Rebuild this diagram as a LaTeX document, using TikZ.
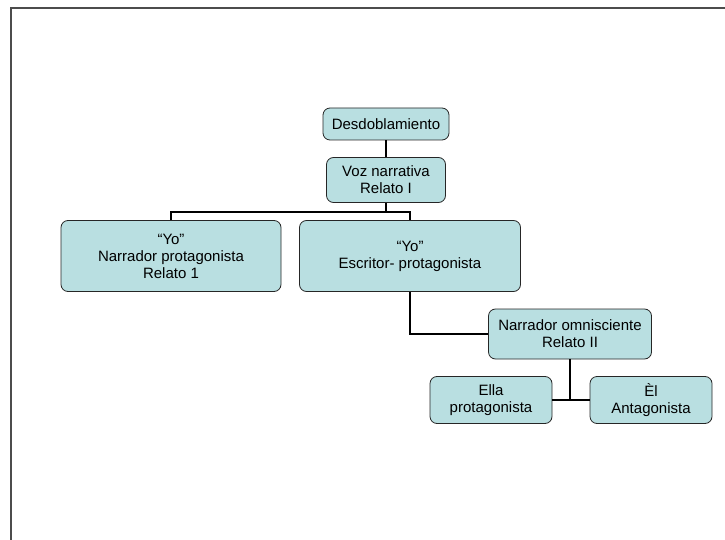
\documentclass[tikz,border=0pt]{standalone}
\usepackage{fontspec}
\setmainfont{Liberation Sans}
\usepackage{xcolor}
\definecolor{cajaazul}{RGB}{185,223,225}

\begin{document}
\begin{tikzpicture}[x=1pt,y=-1pt]
\tikzset{caja/.style={draw=black!85,line width=0.8pt,fill=cajaazul,rounded corners=7pt,align=center,font=\fontsize{15}{17}\selectfont,inner sep=0pt}}
\tikzset{rama/.style={line width=1.6pt}}

\useasboundingbox (0,0) rectangle (725,540);
\draw[black!70,line width=1.2pt] (11,540) -- (11,8) -- (725,8);

\node[caja,minimum width=126pt,minimum height=32pt] (desd) at (386,124) {Desdoblamiento};
\node[caja,minimum width=119pt,minimum height=45pt] (voz) at (386,180) {Voz narrativa\\Relato I};
\node[caja,minimum width=220pt,minimum height=71pt] (yo1) at (171,256) {``Yo''\\Narrador protagonista\\Relato 1};
\node[caja,minimum width=221pt,minimum height=71pt] (yo2) at (410,256) {``Yo''\\Escritor- protagonista};
\node[caja,minimum width=163pt,minimum height=50pt] (omni) at (570,334) {Narrador omnisciente\\Relato II};
\node[caja,minimum width=122pt,minimum height=47pt] (ella) at (491,400) {Ella\\protagonista};
\node[caja,minimum width=122pt,minimum height=47pt] (el) at (651,400) {Èl\\Antagonista};

\draw[rama] (desd) -- (voz);
\draw[rama] (voz.south) -- ++(0,9) -| (yo1.north);
\draw[rama] (voz.south) -- ++(0,9) -| (yo2.north);
\draw[rama] (yo2.south) |- (omni.west);
\draw[rama] (omni.south) -- ++(0,41);
\draw[rama] (ella.east) -- (el.west);

\end{tikzpicture}
\end{document}
